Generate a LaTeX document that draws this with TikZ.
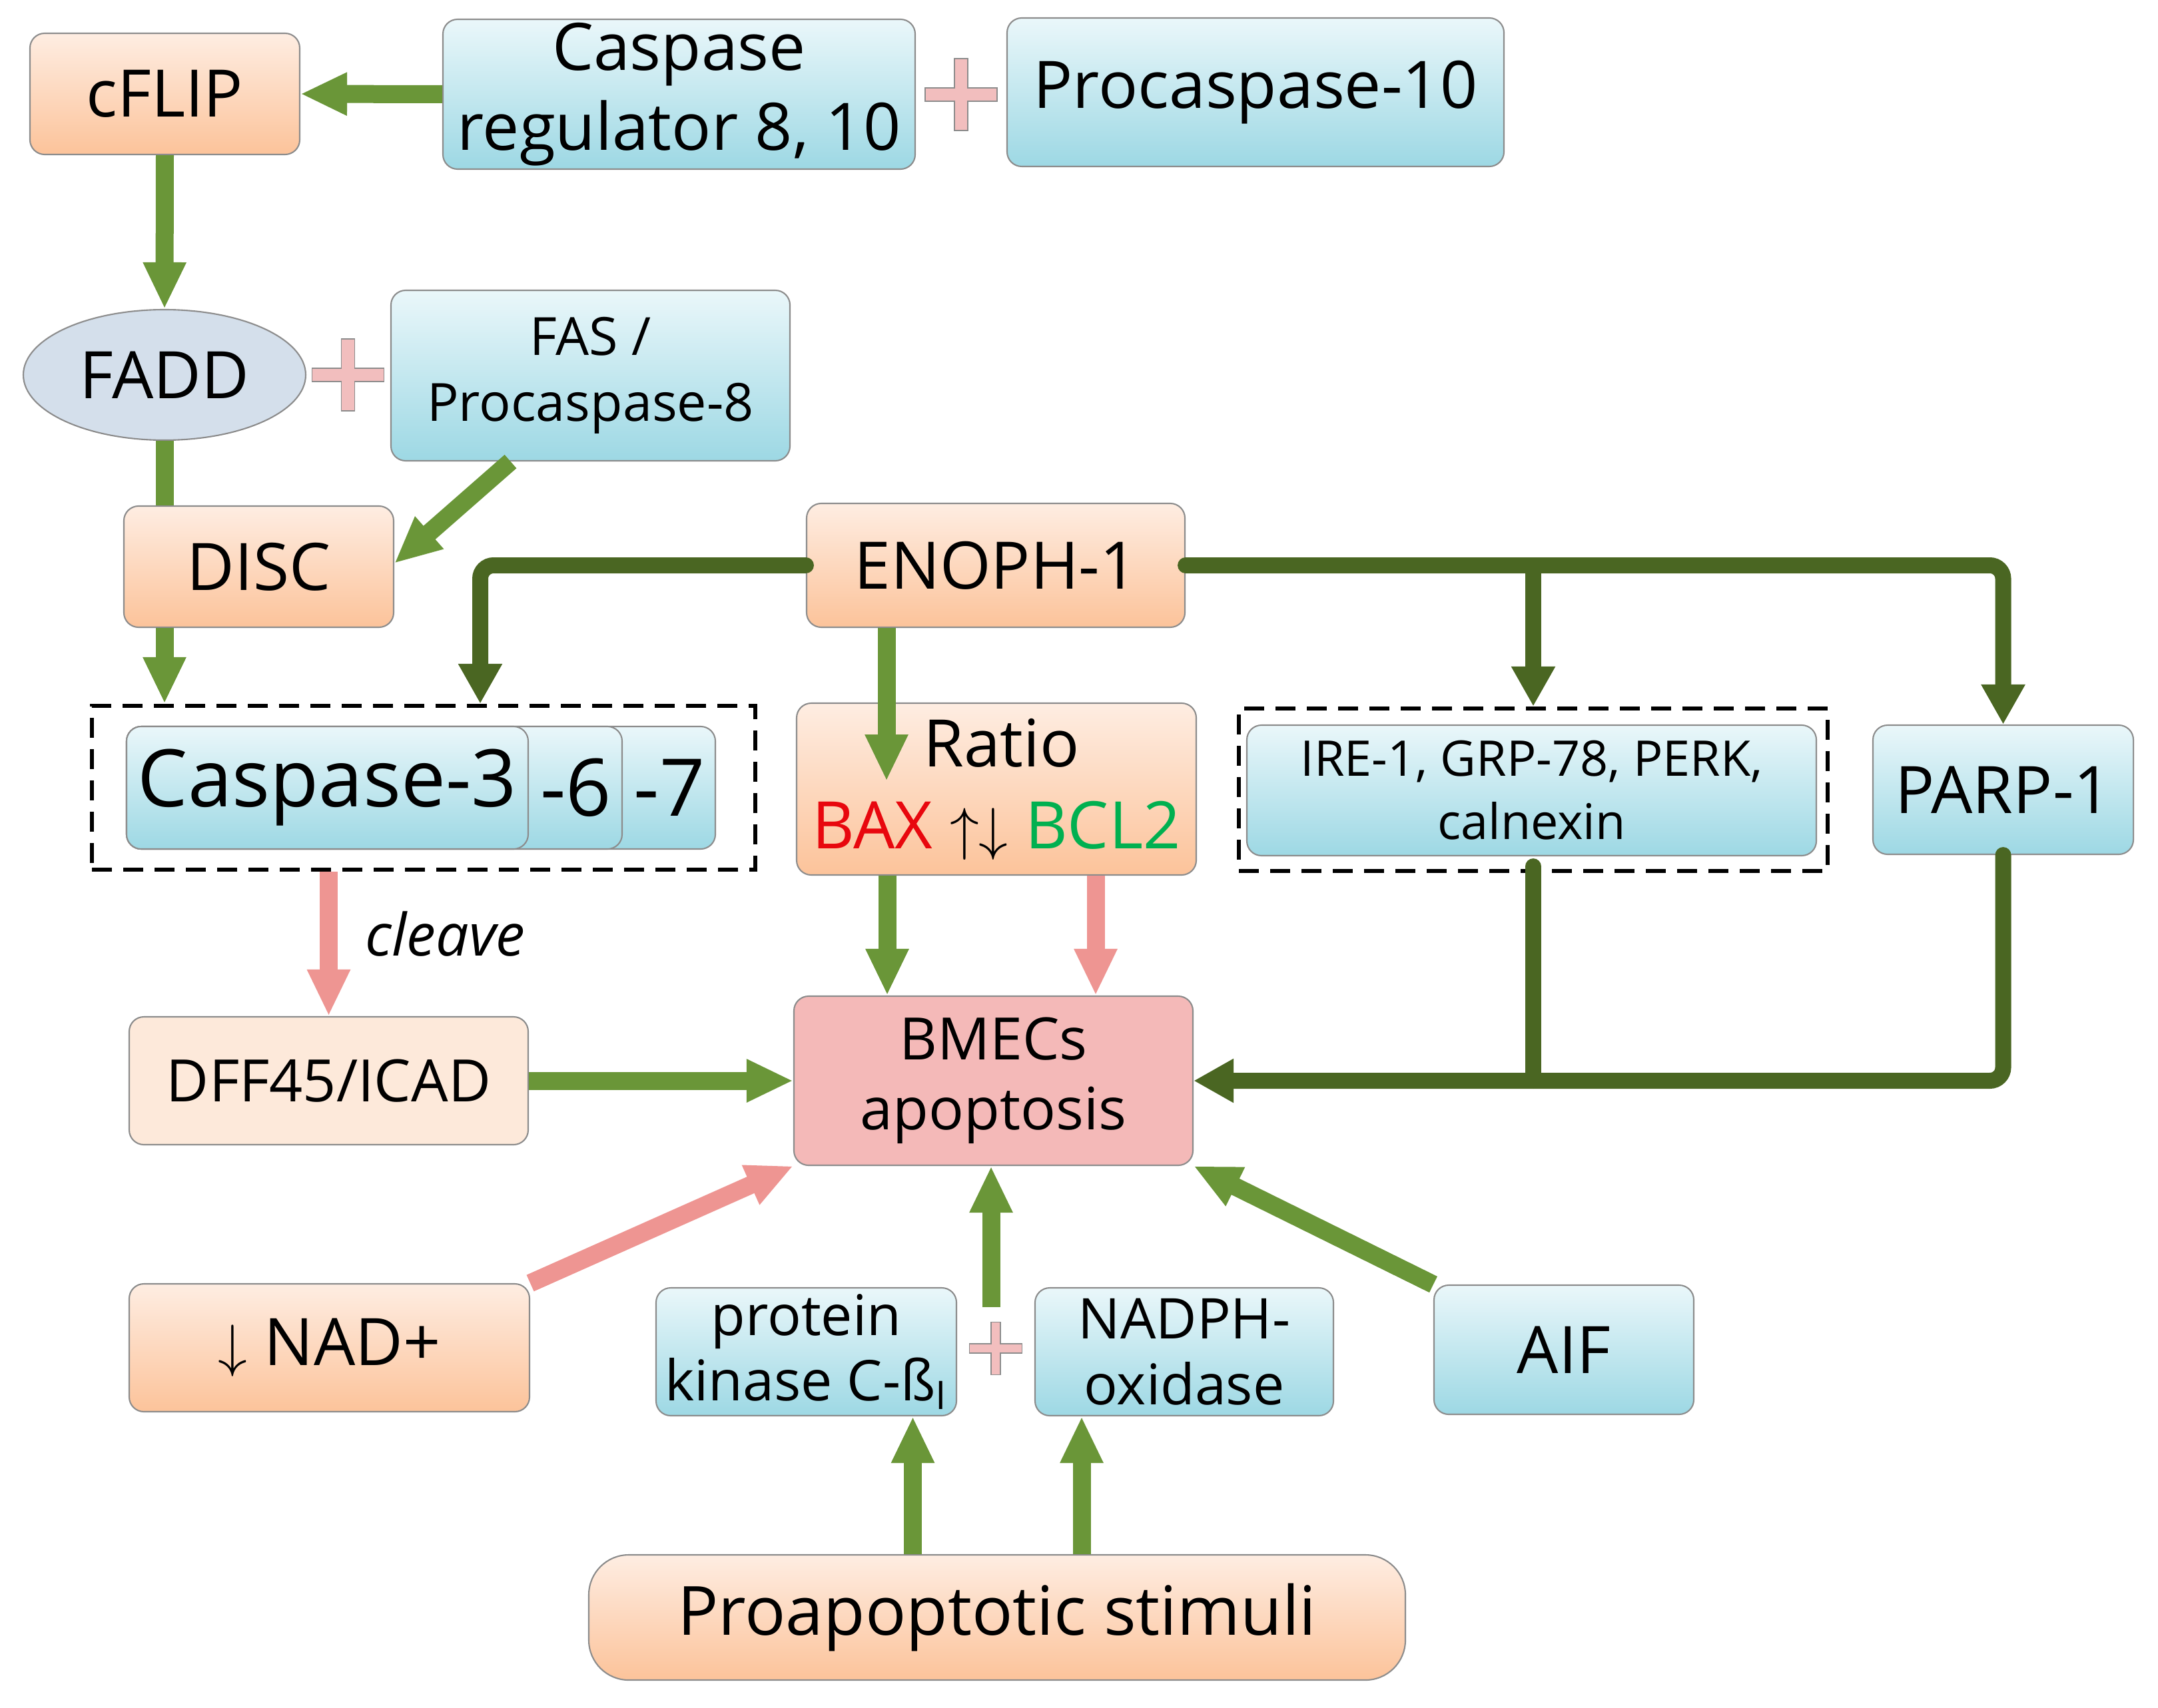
\documentclass[tikz,border=0pt]{standalone}
\usepackage{fontspec}
\setmainfont{Open Sans}
\usetikzlibrary{arrows.meta, positioning, shapes.geometric, calc}

\definecolor{peachtop}{HTML}{FEEDE2}
\definecolor{peachbot}{HTML}{FCC39A}
\definecolor{cyantop}{HTML}{EAF7FA}
\definecolor{cyanbot}{HTML}{9DD8E4}
\definecolor{lightgreen}{HTML}{6A9638}
\definecolor{darkgreen}{HTML}{4A6622}
\definecolor{pinkarrow}{HTML}{EE9592}
\definecolor{pluspink}{HTML}{F2BEBE}
\definecolor{bmecsfill}{HTML}{F4B9B8}
\definecolor{dfffill}{HTML}{FDE9DA}
\definecolor{faddfill}{HTML}{D4DFEB}
\definecolor{baxred}{HTML}{E8070E}
\definecolor{bclgreen}{HTML}{00B050}

\newcommand{\fsize}[2]{\fontsize{#1}{#2}\selectfont}

\begin{document}
\begin{tikzpicture}[
    box/.style={
        draw=black!45,
        line width=0.6pt,
        rounded corners=0.22cm,
        inner sep=0pt,
        align=center,
        font=\fsize{28}{34}
    },
    peach box/.style={box, top color=peachtop, bottom color=peachbot},
    cyan box/.style={box, top color=cyantop, bottom color=cyanbot},
    dash box/.style={draw=black, line width=1.8pt, dash pattern=on 0.3cm off 0.17cm, inner sep=0pt},
    light arrow/.style={draw=lightgreen, line width=0.27cm, -{Triangle[width=0.6cm,length=0.7cm]}},
    pink arrow/.style={draw=pinkarrow, line width=0.27cm, -{Triangle[width=0.6cm,length=0.7cm]}},
    dark line/.style={draw=darkgreen, line width=0.24cm, rounded corners=0.2cm, line cap=round},
    dark arrow/.style={dark line, -{Triangle[width=0.62cm,length=0.6cm]}},
    plusmark/.pic={
        \path[fill=pluspink, draw=black!45, line width=0.5pt]
            (-0.1,0.54) -- (0.1,0.54) -- (0.1,0.1) -- (0.54,0.1) -- (0.54,-0.1) -- (0.1,-0.1)
            -- (0.1,-0.54) -- (-0.1,-0.54) -- (-0.1,-0.1) -- (-0.54,-0.1) -- (-0.54,0.1) -- (-0.1,0.1) -- cycle;
    }
]
    \fill[white] (0,0) rectangle (32.4,-25.64);
    \useasboundingbox (0,0) rectangle (32.4,-25.64);

    % top row
    \node[peach box, minimum width=4.05cm, minimum height=1.82cm] (cflip) at (2.475,-1.41) {cFLIP};
    \node[cyan box, minimum width=7.09cm, minimum height=2.25cm] (casreg) at (10.195,-1.415) {Caspase\\regulator 8, 10};
    \node[cyan box, minimum width=7.46cm, minimum height=2.23cm] (procasp) at (18.85,-1.385) {Procaspase-10};
    \pic at (14.43,-1.42) {plusmark};

    % FADD / DISC
    \node[ellipse, draw=black!45, line width=0.6pt, fill=faddfill, minimum width=4.24cm, minimum height=1.96cm,
          inner sep=0pt, font=\fsize{28}{34}] (fadd) at (2.47,-5.63) {FADD};
    \pic at (5.225,-5.63) {plusmark};
    \node[cyan box, minimum width=5.99cm, minimum height=2.56cm, font=\fsize{22.5}{28}] (fas) at (8.865,-5.64) {FAS /\\Procaspase-8};
    \node[peach box, minimum width=4.05cm, minimum height=1.82cm] (disc) at (3.885,-8.51) {DISC};
    \node[peach box, minimum width=5.68cm, minimum height=1.86cm] (enoph) at (14.95,-8.49) {ENOPH-1};

    % caspase group
    \node[dash box, minimum width=9.96cm, minimum height=2.46cm] (dashL) at (6.36,-11.83) {};
    \node[cyan box, minimum width=8.84cm, minimum height=1.84cm] (casp7) at (6.32,-11.83) {};
    \node[cyan box, minimum width=7.44cm, minimum height=1.84cm] (casp6) at (5.62,-11.83) {};
    \node[cyan box, minimum width=6.03cm, minimum height=1.84cm, font=\fsize{34}{40}] (casp3) at (4.915,-11.83) {Caspase-3};
    \node[font=\fsize{34}{40}, inner sep=0pt] (lab6) at ($(casp3.east)!0.5!(casp6.east)$) {-6};
    \node[font=\fsize{34}{40}, inner sep=0pt] (lab7) at ($(casp6.east)!0.5!(casp7.east)$) {-7};

    \node[peach box, minimum width=6.0cm, minimum height=2.58cm, font=\fsize{28}{35}] (ratio) at (14.96,-11.85)
        {\hspace*{0.15cm}Ratio\\{\color{baxred}BAX} $\uparrow\downarrow$ {\color{bclgreen}BCL2}};

    \node[dash box, minimum width=8.84cm, minimum height=2.44cm] (dashR) at (23.02,-11.86) {};
    \node[cyan box, minimum width=8.55cm, minimum height=1.96cm, font=\fsize{21}{27}] (ire) at (22.995,-11.87) {IRE-1, GRP-78, PERK,\\calnexin};
    \node[cyan box, minimum width=3.91cm, minimum height=1.94cm] (parp) at (30.075,-11.86) {PARP-1};

    % middle row
    \node[box, fill=dfffill, minimum width=5.99cm, minimum height=1.92cm, font=\fsize{25}{30}] (dff) at (4.935,-16.23) {DFF45/ICAD};
    \node[box, fill=bmecsfill, minimum width=5.99cm, minimum height=2.54cm, font=\fsize{25}{30}] (bmecs) at (14.915,-16.23) {BMECs\\apoptosis};

    % bottom rows
    \node[peach box, minimum width=6.01cm, minimum height=1.92cm] (nad) at (4.945,-20.24) {$\downarrow$ NAD+};
    \node[cyan box, minimum width=4.51cm, minimum height=1.92cm, font=\fsize{24}{28}] (pkc) at (12.105,-20.3) {protein\\kinase C-ß\textsubscript{I}};
    \pic[scale=0.73] at (14.95,-20.25) {plusmark};
    \coordinate (pkplus) at (14.88,-20.25);
    \node[cyan box, minimum width=4.48cm, minimum height=1.92cm, font=\fsize{24}{28}] (nadph) at (17.78,-20.3) {NADPH-\\oxidase};
    \node[cyan box, minimum width=3.9cm, minimum height=1.94cm] (aif) at (23.48,-20.27) {AIF};
    \node[peach box, rounded corners=0.6cm, minimum width=12.26cm, minimum height=1.88cm, font=\fsize{29}{34}] (stim) at (14.97,-24.29) {Proapoptotic stimuli};

    % connectors
    \draw[light arrow] (casreg.west) -- (cflip.east);
    \draw[light arrow] (cflip.south) -- (fadd.north);
    \draw[draw=lightgreen, line width=0.27cm] (fadd.south) -- (fadd.south |- disc.north);
    \draw[light arrow] ([xshift=-1.2cm]fas.south) -- ([yshift=0.05cm]disc.east);
    \draw[light arrow] (fadd.south |- disc.south) -- (fadd.south |- dashL.north);

    \draw[dark arrow] (enoph.west) -| ([xshift=0.85cm]dashL.north);
    \draw[dark arrow] (enoph.east) -| (parp.north);
    \draw[dark arrow] (enoph.east -| dashR.north) -- (dashR.north);
    \draw[light arrow] ([xshift=-1.64cm]enoph.south) -- ([xshift=-1.64cm,yshift=0.12cm]enoph.south |- ratio.center);

    \draw[light arrow] ([xshift=-1.64cm]ratio.south) -- ([xshift=-1.64cm]ratio.south |- bmecs.north);
    \draw[pink arrow] ([xshift=1.49cm]ratio.south) -- ([xshift=1.49cm]ratio.south |- bmecs.north);

    \draw[pink arrow] (dashL.south -| dff.north) -- node[right=0.3cm, pos=0.43, font=\itshape\fsize{25}{30}] (cleave) {cleave} (dff.north);
    \draw[light arrow] (dff.east) -- (bmecs.west);

    \draw[dark line] ([yshift=0.1cm]dashR.south) -- (dashR.south |- bmecs.east);
    \draw[dark arrow] (parp.south) |- (bmecs.east);

    \draw[pink arrow] (nad.north east) -- (bmecs.south west);
    \draw[light arrow] ([yshift=0.62cm]pkplus) -- (pkplus |- bmecs.south);
    \draw[light arrow] (aif.north west) -- (bmecs.south east);

    \draw[light arrow] ([xshift=1.6cm]pkc.south |- stim.north) -- ([xshift=1.6cm]pkc.south);
    \draw[light arrow] ([xshift=-1.54cm]nadph.south |- stim.north) -- ([xshift=-1.54cm]nadph.south);
\end{tikzpicture}
\end{document}
